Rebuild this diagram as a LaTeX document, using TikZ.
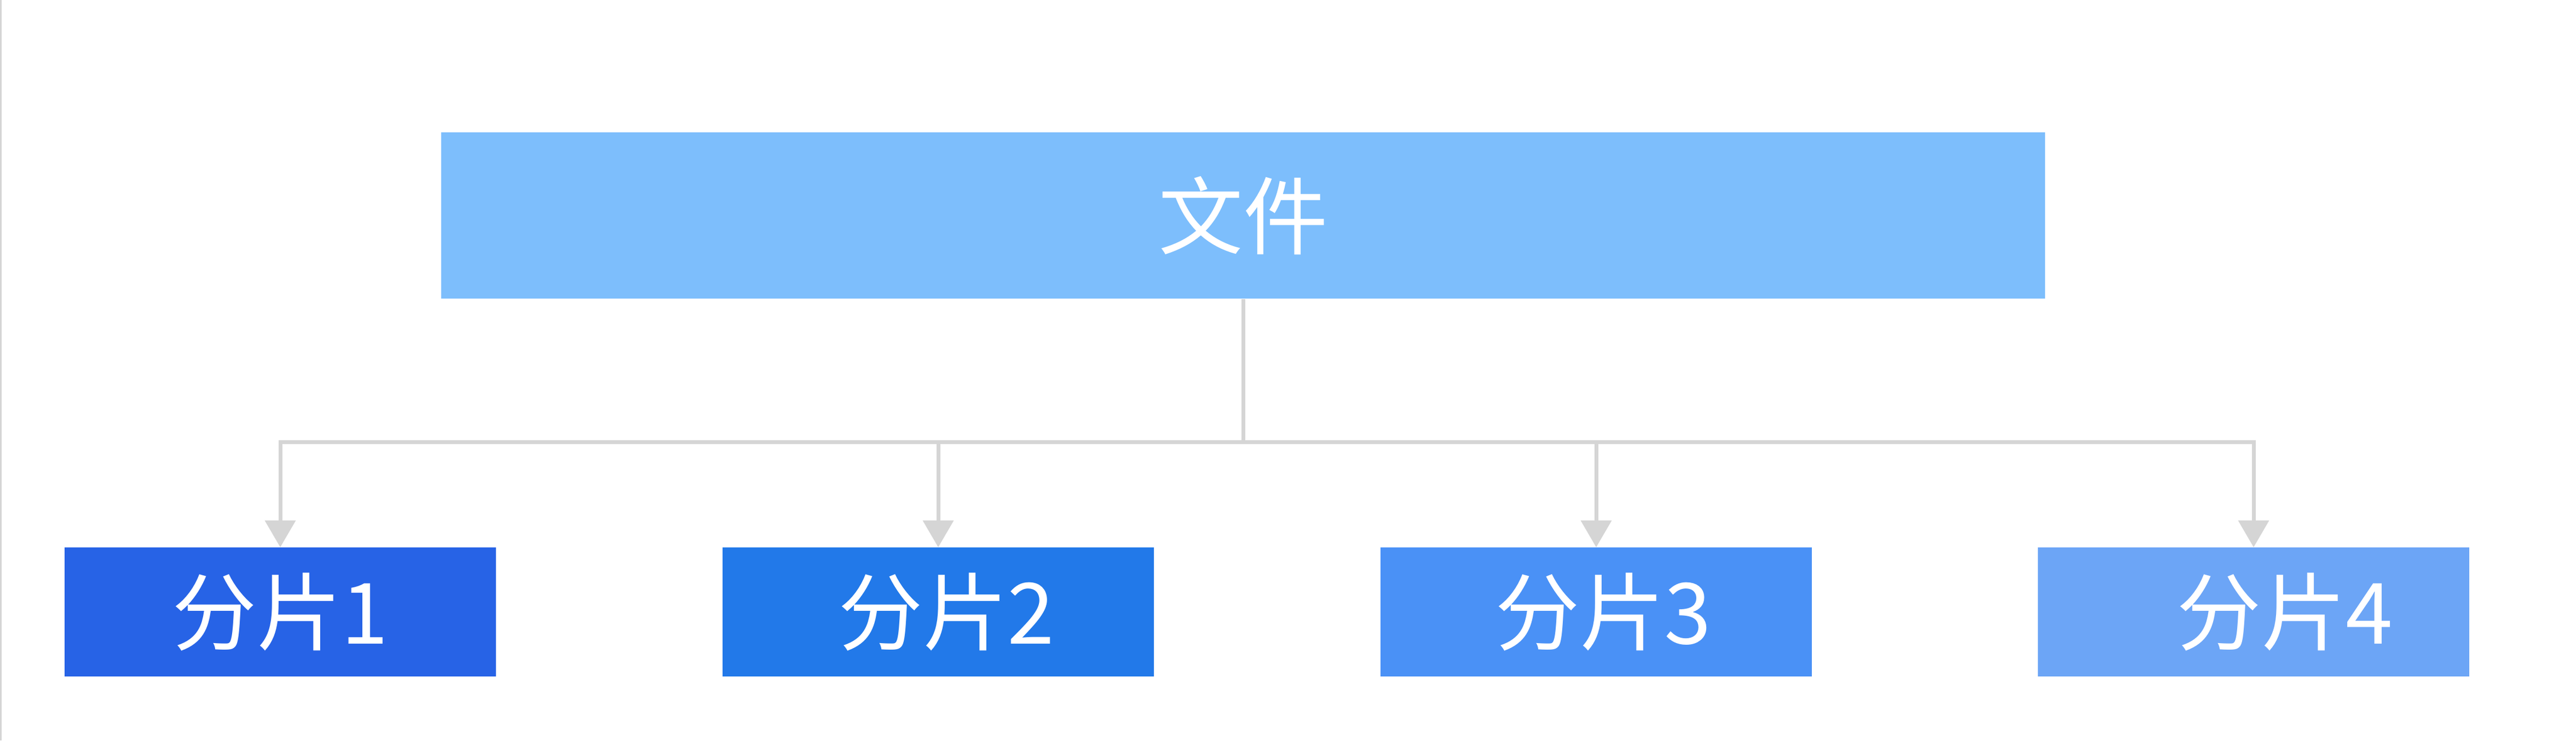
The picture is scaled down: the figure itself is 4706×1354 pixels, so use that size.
\documentclass[tikz,border=0pt]{standalone}
\usepackage{fontspec}
\setmainfont{Noto Sans CJK SC}
\usepackage{tikz}
\usetikzlibrary{arrows.meta}

\definecolor{filecol}{HTML}{7DBEFC}
\definecolor{shardA}{HTML}{2763E6}
\definecolor{shardB}{HTML}{2279E9}
\definecolor{shardC}{HTML}{4A91F6}
\definecolor{shardD}{HTML}{6CA5F6}
\definecolor{linecol}{HTML}{D5D5D5}

\begin{document}
\begin{tikzpicture}[x=0.01cm, y=0.01cm,
    box/.style={inner sep=0pt, text=white, font=\fontsize{44}{52}\selectfont},
    shard/.style={box, minimum width=7.87cm, minimum height=2.35cm},
    link/.style={draw=linecol, line width=0.07cm},
    arr/.style={link, -{Triangle[width=0.55cm, length=0.49cm]}}]
      \useasboundingbox[fill=white] (0, 0) rectangle (4706, -1354);
      \draw[linecol, line width=0.03cm] (1, 0) -- (1, -1354);
      \node[box, fill=filecol, minimum width=29.28cm, minimum height=3.04cm] (file) at (2271, -394) {文件};
      \node[shard, fill=shardA] (s1) at (512, -1119) {分片1};
      \node[shard, fill=shardB] (s2) at (1714, -1119) {\hspace*{0.3cm}分片2};
      \node[shard, fill=shardC] (s3) at (2916, -1119) {\hspace*{0.26cm}分片3};
      \node[shard, fill=shardD] (s4) at (4117, -1119) {\hspace*{1.14cm}分片4};
      \coordinate (bus) at (2271, -808);
      \draw[link] (file) -- (bus);
      \draw[arr] (bus) -| (s1.north);
      \draw[arr] (bus) -| (s2.north);
      \draw[arr] (bus) -| (s3.north);
      \draw[arr] (bus) -| (s4.north);
    \end{tikzpicture}
\end{document}
